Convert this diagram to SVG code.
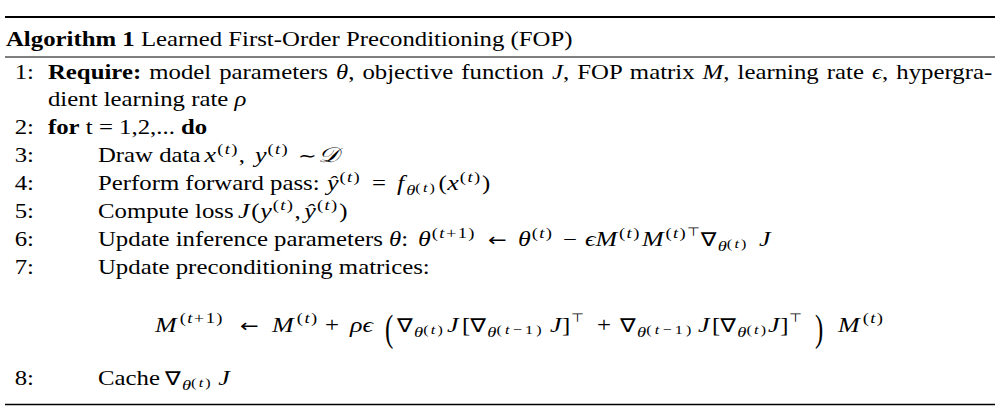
<svg xmlns="http://www.w3.org/2000/svg" width="1000" height="416" viewBox="0 0 1000 416">
<style>
.tx{font-family:"Liberation Serif","DejaVu Serif",serif;font-size:20px;fill:#000}
.b{font-weight:bold}
.i{font-style:italic}
.mi{font-style:italic;font-size:21px}
.sup{font-size:15px;letter-spacing:1.1px}
.sub{font-size:15px;font-style:italic}
.ss{font-size:13px;letter-spacing:1.8px}
.ssw{font-size:13px;letter-spacing:2.6px}
.sym{font-family:"DejaVu Sans",sans-serif;font-size:18px}
.nab{font-family:"DejaVu Sans",sans-serif;font-size:19px}
.top{font-family:"DejaVu Sans",sans-serif;font-size:12px}
.rule{stroke:#000;fill:none}
</style>
<rect width="1000" height="416" fill="#fff"/>
<g id="rules">
<line class="rule" x1="5" y1="17" x2="995" y2="17" stroke-width="2"/>
<line class="rule" x1="5" y1="57" x2="995" y2="57" stroke-width="1" stroke="#333"/>
<line class="rule" x1="5" y1="404.5" x2="995" y2="404.5" stroke-width="1.5"/>
</g>
<g class="tx" transform="scale(1.24 1)">
<g id="title"><text x="4.8" y="46"><tspan class="b">Algorithm 1</tspan> Learned First-Order Preconditioning (FOP)</text></g>
<g id="line1">
<text x="27.4" y="79" text-anchor="end">1:</text>
<text x="38.7" y="79" word-spacing="1.5"><tspan class="b">Require:</tspan> model parameters <tspan class="i">θ</tspan>, objective function <tspan class="i">J</tspan>, FOP matrix <tspan class="i">M</tspan>, learning rate <tspan class="i">ϵ</tspan>, hypergra-</text>
<text x="38.7" y="106">dient learning rate <tspan class="i">ρ</tspan></text>
</g>
<g id="line2">
<text x="27.4" y="134" text-anchor="end">2:</text>
<text x="38.7" y="134"><tspan class="b">for</tspan> t = 1,2,... <tspan class="b">do</tspan></text>
</g>
<g id="line3">
<text x="27.4" y="162" text-anchor="end">3:</text>
<text y="162"><tspan x="79">Draw data</tspan><tspan class="mi" x="165">x</tspan><tspan class="sup" dx="0.8" y="154">(<tspan class="i">t</tspan>)</tspan><tspan y="162">,</tspan><tspan class="mi" x="205.6">y</tspan><tspan class="sup" dx="0.8" y="154">(<tspan class="i">t</tspan>)</tspan><tspan class="sym" x="240.3" y="162">∼</tspan><tspan class="mi" x="256.5">𝒟</tspan></text>
</g>
<g id="line4">
<text x="27.4" y="190" text-anchor="end">4:</text>
<text y="190"><tspan x="79">Perform forward pass:</tspan><tspan class="mi" x="263.7">ŷ</tspan><tspan class="sup" dx="0.8" y="182">(<tspan class="i">t</tspan>)</tspan><tspan x="300" y="190">=</tspan><tspan class="mi" x="320.2">f</tspan><tspan class="sub" dx="1.5" y="195">θ</tspan><tspan class="ss" y="192">(<tspan class="i">t</tspan>)</tspan><tspan dx="1" y="190">(</tspan><tspan class="mi" dx="0.5">x</tspan><tspan class="sup" dx="0.8" y="182">(<tspan class="i">t</tspan>)</tspan><tspan dx="0.5" y="190">)</tspan></text>
</g>
<g id="line5">
<text x="27.4" y="218" text-anchor="end">5:</text>
<text y="218"><tspan x="79">Compute loss</tspan><tspan class="mi" x="191.9">J</tspan><tspan dx="1.5">(</tspan><tspan class="mi" dx="0.5">y</tspan><tspan class="sup" dx="0.8" y="210">(<tspan class="i">t</tspan>)</tspan><tspan y="218">,</tspan><tspan class="mi" dx="3">ŷ</tspan><tspan class="sup" dx="0.8" y="210">(<tspan class="i">t</tspan>)</tspan><tspan dx="0.5" y="218">)</tspan></text>
</g>
<g id="line6">
<text x="27.4" y="246" text-anchor="end">6:</text>
<text y="246"><tspan x="79">Update inference parameters <tspan class="i">θ</tspan>:</tspan><tspan class="mi" x="337.1">θ</tspan><tspan class="sup" dx="0.8" y="238">(<tspan class="i">t</tspan>+1)</tspan><tspan class="sym" x="393.5" y="246">←</tspan><tspan class="mi" x="417.7">θ</tspan><tspan class="sup" dx="0.8" y="238">(<tspan class="i">t</tspan>)</tspan><tspan x="454" y="246">−</tspan><tspan class="mi" x="471.8">ϵM</tspan><tspan class="sup" dx="1.5" y="238">(<tspan class="i">t</tspan>)</tspan><tspan class="mi" dx="1" y="246">M</tspan><tspan class="sup" dx="1.5" y="238">(<tspan class="i">t</tspan>)</tspan><tspan class="top" y="236">⊤</tspan><tspan class="nab" dx="0.5" y="246">∇</tspan><tspan class="sub" dx="1" y="251">θ</tspan><tspan class="ss" y="248">(<tspan class="i">t</tspan>)</tspan><tspan class="mi" x="612" y="246">J</tspan></text>
</g>
<g id="line7">
<text x="27.4" y="274" text-anchor="end">7:</text>
<text x="79" y="274">Update preconditioning matrices:</text>
<g id="equation">
<text y="332"><tspan class="mi" x="125">M</tspan><tspan class="sup" dx="2.5" y="323">(<tspan class="i">t</tspan>+1)</tspan><tspan class="sym" x="193.5" y="332">←</tspan><tspan class="mi" x="219.4">M</tspan><tspan class="sup" dx="2.5" y="323">(<tspan class="i">t</tspan>)</tspan><tspan x="262.1" y="332">+</tspan><tspan class="mi" x="282.3">ρϵ</tspan></text>
<text transform="translate(310.5 341) scale(1 1.87)">(</text>
<text y="332"><tspan class="nab" x="320.2">∇</tspan><tspan class="sub" dx="1" y="337">θ</tspan><tspan class="ss" y="334">(<tspan class="i">t</tspan>)</tspan><tspan class="mi" x="360.5" y="332">J</tspan><tspan x="372.6">[</tspan><tspan class="nab">∇</tspan><tspan class="sub" dx="1" y="337">θ</tspan><tspan class="ssw" y="334">(<tspan class="i">t</tspan>−1)</tspan><tspan class="mi" x="443.5" y="332">J</tspan><tspan dx="0.5">]</tspan><tspan class="top" dx="0.5" y="322">⊤</tspan><tspan x="481.5" y="332">+</tspan><tspan class="nab" x="500">∇</tspan><tspan class="sub" dx="1" y="337">θ</tspan><tspan class="ssw" y="334">(<tspan class="i">t</tspan>−1)</tspan><tspan class="mi" x="562.9" y="332">J</tspan><tspan x="574.2">[</tspan><tspan class="nab">∇</tspan><tspan class="sub" dx="1" y="337">θ</tspan><tspan class="ss" y="334">(<tspan class="i">t</tspan>)</tspan><tspan class="mi" x="619.4" y="332">J</tspan><tspan dx="0.5">]</tspan><tspan class="top" dx="0.5" y="322">⊤</tspan></text>
<text transform="translate(657.3 341) scale(1 1.87)">)</text>
<text y="332"><tspan class="mi" x="675.8">M</tspan><tspan class="sup" dx="2.5" y="323">(<tspan class="i">t</tspan>)</tspan></text>
</g>
</g>
<g id="line8">
<text x="27.4" y="385" text-anchor="end">8:</text>
<text y="385"><tspan x="79">Cache</tspan><tspan class="nab" x="133">∇</tspan><tspan class="sub" dx="1" y="390">θ</tspan><tspan class="ss" y="387">(<tspan class="i">t</tspan>)</tspan><tspan class="mi" x="176" y="385">J</tspan></text>
</g>
</g>
</svg>
